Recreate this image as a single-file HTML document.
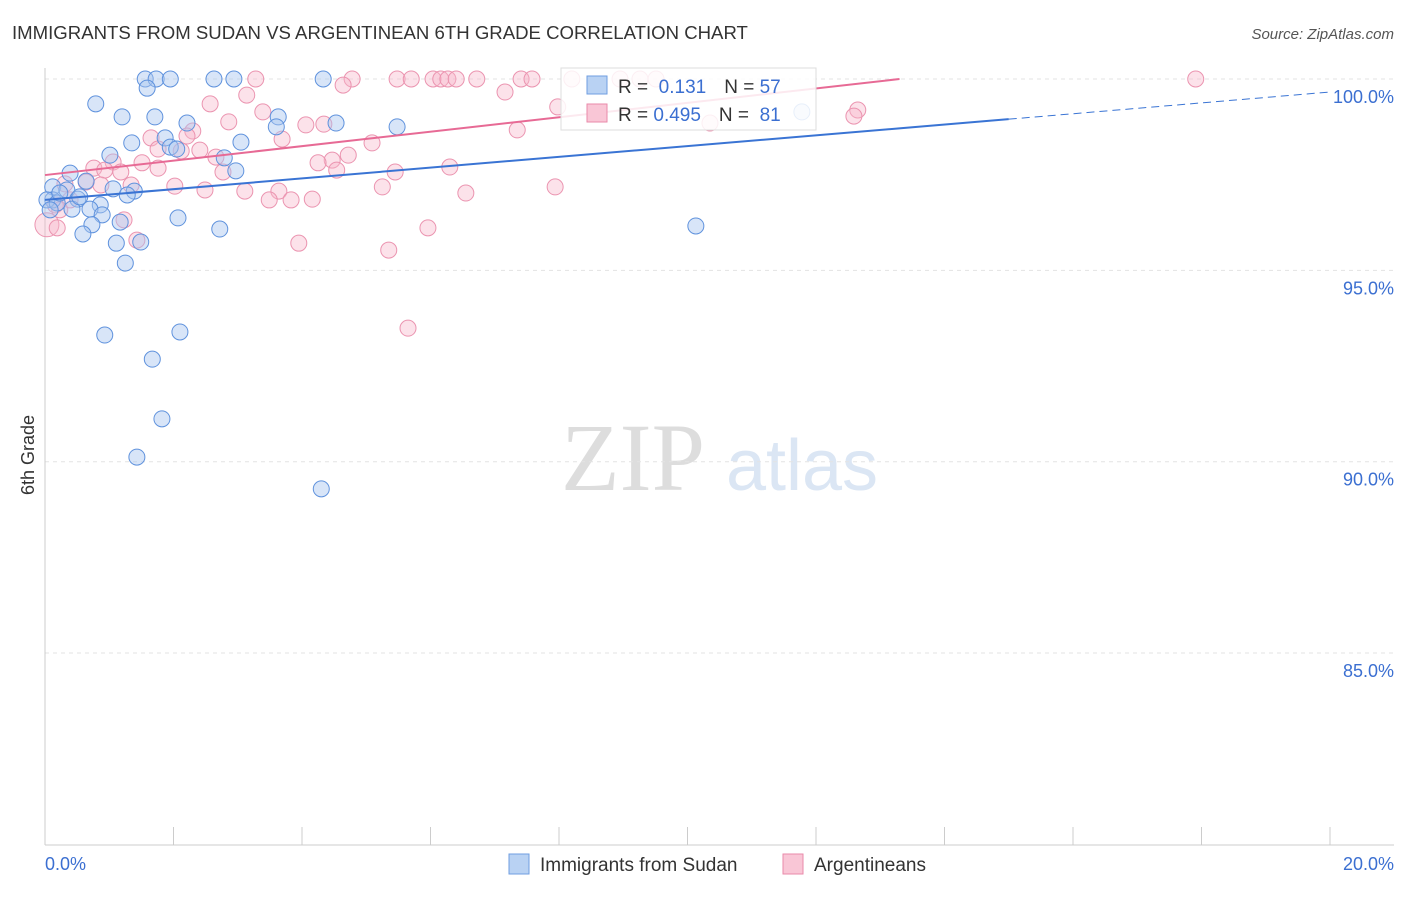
<!DOCTYPE html>
<html><head><meta charset="utf-8"><style>
body{margin:0;background:#fff;font-family:"Liberation Sans",sans-serif}
svg text{font-family:"Liberation Sans",sans-serif}
</style></head><body>
<svg id="c" width="1406" height="892">
<text x="12" y="39" font-size="18.6" fill="#333">IMMIGRANTS FROM SUDAN VS ARGENTINEAN 6TH GRADE CORRELATION CHART</text>
<text x="1394" y="39" font-size="15" fill="#555" font-style="italic" text-anchor="end">Source: ZipAtlas.com</text>
<g>
<text x="633" y="490" font-size="96" fill="#ddd" style="font-family:'Liberation Serif',serif" text-anchor="middle">ZIP</text>
<text x="802" y="490" font-size="72" fill="#dbe6f4" text-anchor="middle">atlas</text></g>
<text transform="translate(34,455) rotate(-90)" font-size="18" fill="#333" text-anchor="middle">6th Grade</text>
<g id="grid"></g><g id="marks"></g><g id="lines"></g>
<g>
<rect x="561" y="68" width="255" height="62" fill="#fff" fill-opacity="0.85" stroke="#ddd"/>
<rect x="587" y="76" width="20" height="18" fill="#b9d2f3" stroke="#6f9ee0"/>
<rect x="587" y="104" width="20" height="18" fill="#f9c6d6" stroke="#e98aaa"/>
<text x="618" y="93" font-size="19" fill="#333">R = <tspan fill="#3b6fd1">&#160;0.131</tspan><tspan dx="18">N = </tspan><tspan fill="#3b6fd1">57</tspan></text>
<text x="618" y="121" font-size="19" fill="#333">R = <tspan fill="#3b6fd1">0.495</tspan><tspan dx="18">N = </tspan><tspan fill="#3b6fd1">&#160;81</tspan></text>
</g>
<g>
<rect x="509" y="854" width="20" height="20" fill="#b9d2f3" stroke="#6f9ee0"/>
<text x="540" y="871" font-size="19" fill="#333">Immigrants from Sudan</text>
<rect x="783" y="854" width="20" height="20" fill="#f9c6d6" stroke="#e98aaa"/>
<text x="814" y="871" font-size="19" fill="#333">Argentineans</text></g>
<text x="45" y="870" font-size="18" fill="#3b6fd1">0.0%</text>
<text x="1394" y="870" font-size="18" fill="#3b6fd1" text-anchor="end">20.0%</text>
</svg>
<script>
const yTicks=[100,95,90,85];
const xTicks=[0,2,4,6,8,10,12,14,16,18,20];
const blueX=[1.56,1.73,1.95,2.63,2.94,4.33,1.59,0.79,1.20,1.71,2.21,3.63,3.60,4.53,5.48,1.87,1.35,3.05,1.01,1.95,2.05,2.79,2.97,0.39,0.64,0.12,0.34,1.06,1.39,1.28,0.12,0.51,0.86,0.70,0.42,0.89,2.07,1.17,0.73,0.59,2.72,1.11,1.49,1.25,0.93,2.10,1.67,1.82,1.43,4.30,10.13,11.78,0.03,0.19,0.08,0.23,0.54];
const blueY=[100,100,100,100,100,100,99.76,99.35,99.01,99.01,98.85,99.01,98.75,98.85,98.75,98.46,98.33,98.35,98.01,98.22,98.17,97.94,97.60,97.54,97.33,97.18,97.10,97.13,97.07,96.97,96.84,96.86,96.71,96.60,96.60,96.45,96.37,96.26,96.19,95.95,96.08,95.71,95.74,95.19,93.31,93.39,92.68,91.12,90.12,89.29,96.16,99.14,96.84,96.76,96.58,97.02,96.92];
const pinkX=[3.28,4.78,5.48,5.70,6.04,6.16,6.27,6.40,6.72,7.41,7.58,8.20,8.95,9.26,9.51,17.91,4.64,7.16,3.14,2.57,7.98,3.39,12.65,12.59,2.86,4.06,4.34,7.35,2.30,1.65,2.21,3.69,5.09,1.76,2.12,2.41,4.72,2.66,1.06,4.47,1.51,0.76,4.25,0.93,1.76,1.18,4.54,6.30,2.77,5.45,0.31,0.64,0.87,1.34,2.02,2.49,3.11,3.64,5.25,7.94,6.55,3.49,3.83,4.16,0.16,0.39,0.23,1.23,0.03,0.19,5.96,3.95,1.43,5.35,5.65,10.35];
const pinkY=[100,100,100,100,100,100,100,100,100,100,100,100,100,100,100,100,99.84,99.66,99.58,99.35,99.27,99.14,99.19,99.03,98.88,98.80,98.82,98.67,98.64,98.46,98.51,98.43,98.33,98.17,98.12,98.14,98.01,97.96,97.83,97.88,97.81,97.67,97.81,97.62,97.67,97.57,97.62,97.70,97.57,97.57,97.26,97.31,97.23,97.23,97.20,97.10,97.07,97.07,97.18,97.18,97.02,96.84,96.84,96.86,96.71,96.84,96.58,96.32,96.19,96.11,96.11,95.71,95.79,95.53,93.49,98.85];
const blueLine=[96.84,98.95,99.66];
const pinkLine=[97.49,100,13.3];
const sx=v=>45+v*64.25, sy=v=>79+(100-v)*38.27;
const NS="http://www.w3.org/2000/svg";
function mk(t,a,p){const e=document.createElementNS(NS,t);for(const k in a)e.setAttribute(k,a[k]);p.appendChild(e);return e;}
const grid=document.getElementById('grid'),marks=document.getElementById('marks'),lines=document.getElementById('lines');
yTicks.forEach(v=>{
 const l=mk('line',{x1:45,x2:1394,y1:sy(v),y2:sy(v),stroke:'#e3e3e3','stroke-dasharray':'4,4'},grid);
 
 
 const t=mk('text',{x:1394,y:sy(v)+24,'font-size':18,fill:'#3b6fd1','text-anchor':'end'},grid);
 t.textContent=v.toFixed(1)+'%';
 
 
});
mk('line',{x1:45,x2:45,y1:68,y2:845,stroke:'#ccc'},grid);
mk('line',{x1:45,x2:1394,y1:845,y2:845,stroke:'#ccc'},grid);
xTicks.forEach(v=>{
 const l=mk('line',{x1:sx(v),x2:sx(v),y1:827,y2:845,stroke:'#ccc'},grid);
 
 
});
pinkX.forEach((x,i)=>{
 const c=mk('circle',{cx:sx(x),cy:sy(pinkY[i]),r:i==68?12:8,fill:'#f7b6ca','fill-opacity':0.4,stroke:'#eb94b0','stroke-width':1},marks);
 
 
});
blueX.forEach((x,i)=>{
 const c=mk('circle',{cx:sx(x),cy:sy(blueY[i]),r:8,fill:'#a8c6ef','fill-opacity':0.45,stroke:'#5f92dd','stroke-width':1},marks);
 
 
});
let b1=mk('line',{x1:sx(0),y1:sy(blueLine[0]),x2:sx(15),y2:sy(blueLine[1]),stroke:'#3a74d4','stroke-width':2},lines);


let b2=mk('line',{x1:sx(15),y1:sy(blueLine[1]),x2:sx(20),y2:sy(blueLine[2]),stroke:'#3a74d4','stroke-width':1,'stroke-dasharray':'8,5'},lines);


let p1=mk('line',{x1:sx(0),y1:sy(pinkLine[0]),x2:sx(pinkLine[2]),y2:sy(pinkLine[1]),stroke:'#e76a95','stroke-width':2},lines);


</script>
</body></html>
